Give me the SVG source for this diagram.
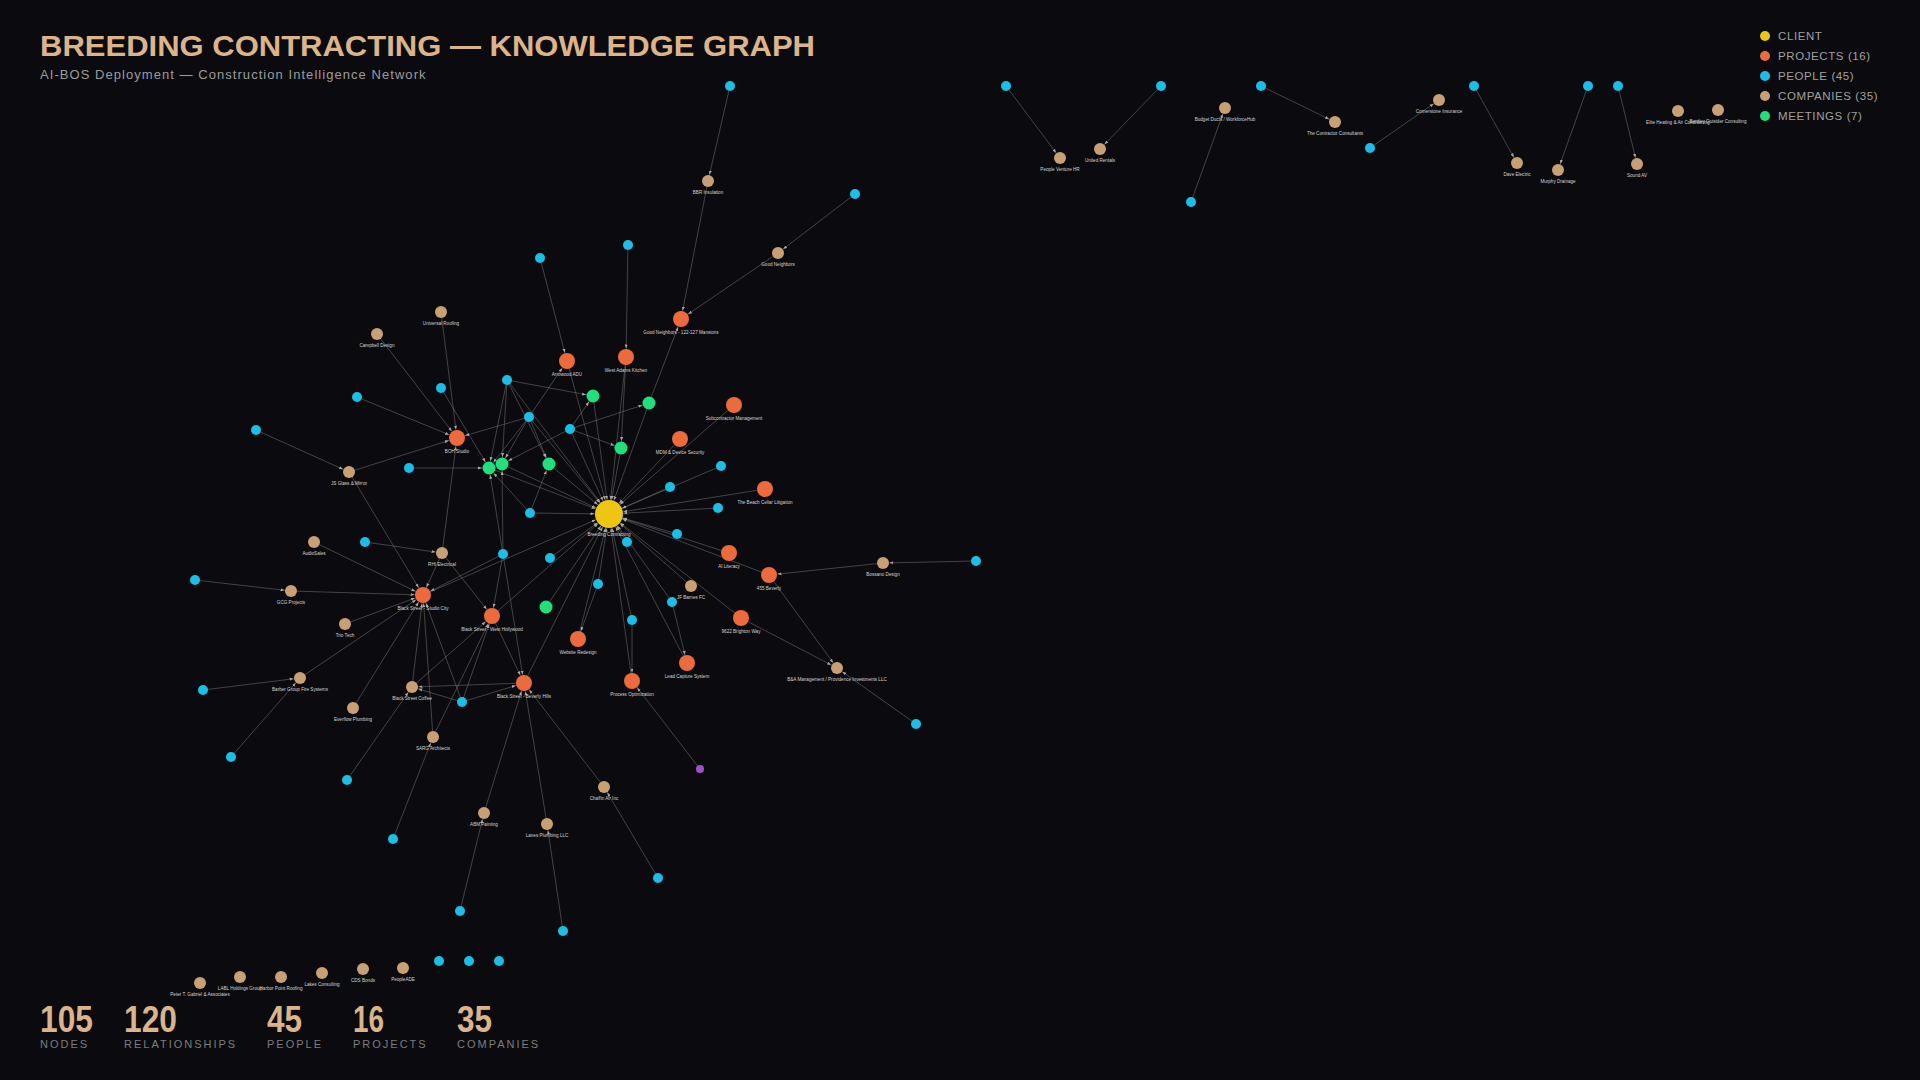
<svg xmlns="http://www.w3.org/2000/svg" width="1920" height="1080" viewBox="0 0 1920 1080">
<style>
.e line{stroke:#8c8c8c;stroke-opacity:.55;stroke-width:.8;fill:none}
.pe{fill:#19bfe6}.co{fill:#c9a074}.pr{fill:#ec6a3b}.mt{fill:#1fe07c}.cl{fill:#eec512}.pu{fill:#a04fd0}
.lb{font-family:"Liberation Sans",Arial,sans-serif;font-size:4.6px;fill:#d4d4d4;text-anchor:middle}
.lg{font-family:"Liberation Sans",Arial,sans-serif;font-size:11.5px;letter-spacing:.6px;fill:#a0a0a0}
.num{font-family:"Liberation Sans",Arial,sans-serif;font-size:36px;font-weight:bold;fill:#dcb48a}
.sl{font-family:"Liberation Sans",Arial,sans-serif;font-size:11px;letter-spacing:2px;fill:#7c7c7c}
</style>
<defs>
<marker id="a14" viewBox="0 0 4 4" markerWidth="4" markerHeight="4" markerUnits="userSpaceOnUse" refX="18.5" refY="2" orient="auto"><path d="M0,0.5L4,2L0,3.5z" fill="#a8a8a8"/></marker>
<marker id="a8" viewBox="0 0 4 4" markerWidth="4" markerHeight="4" markerUnits="userSpaceOnUse" refX="12.5" refY="2" orient="auto"><path d="M0,0.5L4,2L0,3.5z" fill="#a8a8a8"/></marker>
<marker id="a65" viewBox="0 0 4 4" markerWidth="4" markerHeight="4" markerUnits="userSpaceOnUse" refX="11" refY="2" orient="auto"><path d="M0,0.5L4,2L0,3.5z" fill="#a8a8a8"/></marker>
<marker id="a6" viewBox="0 0 4 4" markerWidth="4" markerHeight="4" markerUnits="userSpaceOnUse" refX="10.5" refY="2" orient="auto"><path d="M0,0.5L4,2L0,3.5z" fill="#a8a8a8"/></marker>
</defs>
<rect width="1920" height="1080" fill="#0b0b0f"/>

<g id="title">
<text x="40" y="56" font-family="'Liberation Sans',Arial,sans-serif" font-size="30" font-weight="bold" fill="#dcb48a" textLength="775" lengthAdjust="spacingAndGlyphs">BREEDING CONTRACTING — KNOWLEDGE GRAPH</text>
<text x="40" y="79" font-family="'Liberation Sans',Arial,sans-serif" font-size="13" letter-spacing="1.05" fill="#9c9c9c">AI-BOS Deployment — Construction Intelligence Network</text>
</g>

<g id="legend">
<circle cx="1765" cy="36" r="5" class="cl"/><text x="1778" y="40" class="lg">CLIENT</text>
<circle cx="1765" cy="56" r="5" class="pr"/><text x="1778" y="60" class="lg">PROJECTS (16)</text>
<circle cx="1765" cy="76" r="5" class="pe"/><text x="1778" y="80" class="lg">PEOPLE (45)</text>
<circle cx="1765" cy="96" r="5" class="co"/><text x="1778" y="100" class="lg">COMPANIES (35)</text>
<circle cx="1765" cy="116" r="5" class="mt"/><text x="1778" y="120" class="lg">MEETINGS (7)</text>
</g>

<g id="connectors" class="e">
<line x1="1006" y1="86" x2="1060" y2="158" marker-end="url(#a6)"/>
<line x1="1161" y1="86" x2="1100" y2="149" marker-end="url(#a6)"/>
<line x1="1191" y1="202" x2="1225" y2="108" marker-end="url(#a6)"/>
<line x1="1261" y1="86" x2="1335" y2="122" marker-end="url(#a6)"/>
<line x1="1370" y1="148" x2="1439" y2="100" marker-end="url(#a6)"/>
<line x1="1474" y1="86" x2="1517" y2="163" marker-end="url(#a6)"/>
<line x1="1588" y1="86" x2="1558" y2="170" marker-end="url(#a6)"/>
<line x1="1618" y1="86" x2="1637" y2="164" marker-end="url(#a6)"/>

<line x1="730" y1="86" x2="708" y2="181" marker-end="url(#a6)"/>
<line x1="708" y1="181" x2="681" y2="319" marker-end="url(#a8)"/>
<line x1="855" y1="194" x2="778" y2="253" marker-end="url(#a6)"/>
<line x1="778" y1="253" x2="681" y2="319" marker-end="url(#a8)"/>
<line x1="649" y1="403" x2="681" y2="319" marker-end="url(#a8)"/>
<line x1="649" y1="403" x2="609" y2="514" marker-end="url(#a14)"/>
<line x1="628" y1="245" x2="626" y2="357" marker-end="url(#a8)"/>
<line x1="626" y1="357" x2="609" y2="514" marker-end="url(#a14)"/>
<line x1="626" y1="357" x2="621" y2="448" marker-end="url(#a65)"/>
<line x1="540" y1="258" x2="567" y2="361" marker-end="url(#a8)"/>
<line x1="567" y1="361" x2="609" y2="514" marker-end="url(#a14)"/>
<line x1="529" y1="417" x2="567" y2="361" marker-end="url(#a8)"/>
<line x1="441" y1="312" x2="457" y2="438" marker-end="url(#a8)"/>
<line x1="377" y1="334" x2="457" y2="438" marker-end="url(#a8)"/>
<line x1="357" y1="397" x2="457" y2="438" marker-end="url(#a8)"/>
<line x1="256" y1="430" x2="349" y2="472" marker-end="url(#a6)"/>
<line x1="349" y1="472" x2="457" y2="438" marker-end="url(#a8)"/>
<line x1="349" y1="472" x2="423" y2="595" marker-end="url(#a8)"/>
<line x1="441" y1="388" x2="489" y2="468" marker-end="url(#a65)"/>
<line x1="409" y1="468" x2="489" y2="468" marker-end="url(#a65)"/>
<line x1="507" y1="380" x2="593" y2="396" marker-end="url(#a65)"/>
<line x1="507" y1="380" x2="489" y2="468" marker-end="url(#a65)"/>
<line x1="507" y1="380" x2="502" y2="464" marker-end="url(#a65)"/>
<line x1="507" y1="380" x2="549" y2="464" marker-end="url(#a65)"/>
<line x1="507" y1="380" x2="609" y2="514" marker-end="url(#a14)"/>
<line x1="503" y1="554" x2="502" y2="464" marker-end="url(#a65)"/>
<line x1="503" y1="554" x2="489" y2="468" marker-end="url(#a65)"/>
<line x1="529" y1="417" x2="489" y2="468" marker-end="url(#a65)"/>
<line x1="529" y1="417" x2="502" y2="464" marker-end="url(#a65)"/>
<line x1="529" y1="417" x2="549" y2="464" marker-end="url(#a65)"/>
<line x1="529" y1="417" x2="609" y2="514" marker-end="url(#a14)"/>
<line x1="529" y1="417" x2="457" y2="438" marker-end="url(#a8)"/>
<line x1="570" y1="429" x2="593" y2="396" marker-end="url(#a65)"/>
<line x1="570" y1="429" x2="649" y2="403" marker-end="url(#a65)"/>
<line x1="570" y1="429" x2="621" y2="448" marker-end="url(#a65)"/>
<line x1="570" y1="429" x2="502" y2="464" marker-end="url(#a65)"/>
<line x1="570" y1="429" x2="609" y2="514" marker-end="url(#a14)"/>
<line x1="593" y1="396" x2="609" y2="514" marker-end="url(#a14)"/>
<line x1="621" y1="448" x2="609" y2="514" marker-end="url(#a14)"/>
<line x1="489" y1="468" x2="609" y2="514" marker-end="url(#a14)"/>
<line x1="502" y1="464" x2="609" y2="514" marker-end="url(#a14)"/>
<line x1="549" y1="464" x2="609" y2="514" marker-end="url(#a14)"/>
<line x1="530" y1="513" x2="549" y2="464" marker-end="url(#a65)"/>
<line x1="530" y1="513" x2="609" y2="514" marker-end="url(#a14)"/>
<line x1="530" y1="513" x2="489" y2="468" marker-end="url(#a65)"/>

<line x1="734" y1="405" x2="609" y2="514" marker-end="url(#a14)"/>
<line x1="680" y1="439" x2="609" y2="514" marker-end="url(#a14)"/>
<line x1="721" y1="466" x2="609" y2="514" marker-end="url(#a14)"/>
<line x1="670" y1="487" x2="609" y2="514" marker-end="url(#a14)"/>
<line x1="765" y1="489" x2="609" y2="514" marker-end="url(#a14)"/>
<line x1="718" y1="508" x2="609" y2="514" marker-end="url(#a14)"/>
<line x1="677" y1="534" x2="609" y2="514" marker-end="url(#a14)"/>
<line x1="627" y1="542" x2="609" y2="514" marker-end="url(#a14)"/>
<line x1="729" y1="553" x2="609" y2="514" marker-end="url(#a14)"/>
<line x1="769" y1="575" x2="609" y2="514" marker-end="url(#a14)"/>
<line x1="691" y1="586" x2="609" y2="514" marker-end="url(#a14)"/>
<line x1="672" y1="602" x2="609" y2="514" marker-end="url(#a14)"/>
<line x1="741" y1="618" x2="609" y2="514" marker-end="url(#a14)"/>
<line x1="687" y1="663" x2="609" y2="514" marker-end="url(#a14)"/>
<line x1="632" y1="620" x2="609" y2="514" marker-end="url(#a14)"/>
<line x1="632" y1="681" x2="609" y2="514" marker-end="url(#a14)"/>
<line x1="598" y1="584" x2="609" y2="514" marker-end="url(#a14)"/>
<line x1="578" y1="639" x2="609" y2="514" marker-end="url(#a14)"/>
<line x1="546" y1="607" x2="609" y2="514" marker-end="url(#a14)"/>
<line x1="550" y1="558" x2="609" y2="514" marker-end="url(#a14)"/>
<line x1="741" y1="618" x2="837" y2="668" marker-end="url(#a6)"/>
<line x1="769" y1="575" x2="837" y2="668" marker-end="url(#a6)"/>
<line x1="916" y1="724" x2="837" y2="668" marker-end="url(#a6)"/>
<line x1="976" y1="561" x2="883" y2="563" marker-end="url(#a6)"/>
<line x1="883" y1="563" x2="769" y2="575" marker-end="url(#a8)"/>
<line x1="632" y1="620" x2="632" y2="681" marker-end="url(#a8)"/>
<line x1="672" y1="602" x2="687" y2="663" marker-end="url(#a8)"/>
<line x1="598" y1="584" x2="578" y2="639" marker-end="url(#a8)"/>
<line x1="700" y1="769" x2="632" y2="681" marker-end="url(#a8)"/>

<line x1="314" y1="542" x2="423" y2="595" marker-end="url(#a8)"/>
<line x1="365" y1="542" x2="442" y2="553" marker-end="url(#a6)"/>
<line x1="442" y1="553" x2="423" y2="595" marker-end="url(#a8)"/>
<line x1="442" y1="553" x2="492" y2="616" marker-end="url(#a8)"/>
<line x1="442" y1="553" x2="457" y2="438" marker-end="url(#a8)"/>
<line x1="195" y1="580" x2="291" y2="591" marker-end="url(#a6)"/>
<line x1="291" y1="591" x2="423" y2="595" marker-end="url(#a8)"/>
<line x1="345" y1="624" x2="423" y2="595" marker-end="url(#a8)"/>
<line x1="300" y1="678" x2="423" y2="595" marker-end="url(#a8)"/>
<line x1="203" y1="690" x2="300" y2="678" marker-end="url(#a6)"/>
<line x1="231" y1="757" x2="300" y2="678" marker-end="url(#a6)"/>
<line x1="353" y1="708" x2="423" y2="595" marker-end="url(#a8)"/>
<line x1="347" y1="780" x2="412" y2="687" marker-end="url(#a6)"/>
<line x1="393" y1="839" x2="433" y2="737" marker-end="url(#a6)"/>
<line x1="433" y1="737" x2="423" y2="595" marker-end="url(#a8)"/>
<line x1="433" y1="737" x2="492" y2="616" marker-end="url(#a8)"/>
<line x1="412" y1="687" x2="423" y2="595" marker-end="url(#a8)"/>
<line x1="412" y1="687" x2="492" y2="616" marker-end="url(#a8)"/>
<line x1="524" y1="683" x2="412" y2="687" marker-end="url(#a6)"/>
<line x1="462" y1="702" x2="412" y2="687" marker-end="url(#a6)"/>
<line x1="462" y1="702" x2="492" y2="616" marker-end="url(#a8)"/>
<line x1="462" y1="702" x2="524" y2="683" marker-end="url(#a8)"/>
<line x1="462" y1="702" x2="423" y2="595" marker-end="url(#a8)"/>
<line x1="503" y1="554" x2="423" y2="595" marker-end="url(#a8)"/>
<line x1="503" y1="554" x2="492" y2="616" marker-end="url(#a8)"/>
<line x1="503" y1="554" x2="524" y2="683" marker-end="url(#a8)"/>
<line x1="423" y1="595" x2="609" y2="514" marker-end="url(#a14)"/>
<line x1="492" y1="616" x2="609" y2="514" marker-end="url(#a14)"/>
<line x1="524" y1="683" x2="609" y2="514" marker-end="url(#a14)"/>
<line x1="492" y1="616" x2="524" y2="683" marker-end="url(#a8)"/>
<line x1="484" y1="813" x2="524" y2="683" marker-end="url(#a8)"/>
<line x1="547" y1="824" x2="524" y2="683" marker-end="url(#a8)"/>
<line x1="604" y1="787" x2="524" y2="683" marker-end="url(#a8)"/>
<line x1="460" y1="911" x2="484" y2="813" marker-end="url(#a6)"/>
<line x1="563" y1="931" x2="547" y2="824" marker-end="url(#a6)"/>
<line x1="658" y1="878" x2="604" y2="787" marker-end="url(#a6)"/>
</g>

<g id="n-client"><circle cx="609" cy="514" r="14" class="cl"/><text x="609" y="536" class="lb">Breeding Contracting</text></g>

<g id="n-p1"><circle cx="681" cy="319" r="8" class="pr"/><text x="681" y="334" class="lb">Good Neighbors - 122-127 Mansions</text></g>
<g id="n-p2"><circle cx="567" cy="361" r="8" class="pr"/><text x="567" y="376" class="lb">Arrowood ADU</text></g>
<g id="n-p3"><circle cx="626" cy="357" r="8" class="pr"/><text x="626" y="372" class="lb">West Adams Kitchen</text></g>
<g id="n-p4"><circle cx="734" cy="405" r="8" class="pr"/><text x="734" y="420" class="lb">Subcontractor Management</text></g>
<g id="n-p5"><circle cx="680" cy="439" r="8" class="pr"/><text x="680" y="454" class="lb">MDM &amp; Device Security</text></g>
<g id="n-p6"><circle cx="457" cy="438" r="8" class="pr"/><text x="457" y="453" class="lb">BOH Studio</text></g>
<g id="n-p7"><circle cx="765" cy="489" r="8" class="pr"/><text x="765" y="504" class="lb">The Beach Cellar Litigation</text></g>
<g id="n-p8"><circle cx="729" cy="553" r="8" class="pr"/><text x="729" y="568" class="lb">AI Literacy</text></g>
<g id="n-p9"><circle cx="769" cy="575" r="8" class="pr"/><text x="769" y="590" class="lb">455 Beverly</text></g>
<g id="n-p10"><circle cx="741" cy="618" r="8" class="pr"/><text x="741" y="633" class="lb">9622 Brighton Way</text></g>
<g id="n-p11"><circle cx="687" cy="663" r="8" class="pr"/><text x="687" y="678" class="lb">Lead Capture System</text></g>
<g id="n-p12"><circle cx="578" cy="639" r="8" class="pr"/><text x="578" y="654" class="lb">Website Redesign</text></g>
<g id="n-p13"><circle cx="632" cy="681" r="8" class="pr"/><text x="632" y="696" class="lb">Process Optimization</text></g>
<g id="n-p14"><circle cx="524" cy="683" r="8" class="pr"/><text x="524" y="698" class="lb">Black Street - Beverly Hills</text></g>
<g id="n-p15"><circle cx="423" cy="595" r="8" class="pr"/><text x="423" y="610" class="lb">Black Street - Studio City</text></g>
<g id="n-p16"><circle cx="492" cy="616" r="8" class="pr"/><text x="492" y="631" class="lb">Black Street - West Hollywood</text></g>

<g id="n-m1"><circle cx="593" cy="396" r="6.5" class="mt"/></g>
<g id="n-m2"><circle cx="649" cy="403" r="6.5" class="mt"/></g>
<g id="n-m3"><circle cx="621" cy="448" r="6.5" class="mt"/></g>
<g id="n-m4"><circle cx="489" cy="468" r="6.5" class="mt"/></g>
<g id="n-m5"><circle cx="502" cy="464" r="6.5" class="mt"/></g>
<g id="n-m6"><circle cx="549" cy="464" r="6.5" class="mt"/></g>
<g id="n-m7"><circle cx="546" cy="607" r="6.5" class="mt"/></g>

<g id="n-co1"><circle cx="708" cy="181" r="6" class="co"/><text x="708" y="194" class="lb">BBR Insulation</text></g>
<g id="n-co2"><circle cx="778" cy="253" r="6" class="co"/><text x="778" y="266" class="lb">Good Neighbors</text></g>
<g id="n-co3"><circle cx="441" cy="312" r="6" class="co"/><text x="441" y="325" class="lb">Universal Roofing</text></g>
<g id="n-co4"><circle cx="377" cy="334" r="6" class="co"/><text x="377" y="347" class="lb">Campbell Design</text></g>
<g id="n-co5"><circle cx="349" cy="472" r="6" class="co"/><text x="349" y="485" class="lb">JS Glass &amp; Mirror</text></g>
<g id="n-co6"><circle cx="442" cy="553" r="6" class="co"/><text x="442" y="566" class="lb">RHI Electrical</text></g>
<g id="n-co7"><circle cx="314" cy="542" r="6" class="co"/><text x="314" y="555" class="lb">AudioSales</text></g>
<g id="n-co8"><circle cx="291" cy="591" r="6" class="co"/><text x="291" y="604" class="lb">GCG Projects</text></g>
<g id="n-co9"><circle cx="345" cy="624" r="6" class="co"/><text x="345" y="637" class="lb">Trio Tech</text></g>
<g id="n-co10"><circle cx="300" cy="678" r="6" class="co"/><text x="300" y="691" class="lb">Barber Group Fire Systems</text></g>
<g id="n-co11"><circle cx="353" cy="708" r="6" class="co"/><text x="353" y="721" class="lb">Everflow Plumbing</text></g>
<g id="n-co12"><circle cx="412" cy="687" r="6" class="co"/><text x="412" y="700" class="lb">Black Street Coffee</text></g>
<g id="n-co13"><circle cx="433" cy="737" r="6" class="co"/><text x="433" y="750" class="lb">SARG Architects</text></g>
<g id="n-co14"><circle cx="484" cy="813" r="6" class="co"/><text x="484" y="826" class="lb">ABM Painting</text></g>
<g id="n-co15"><circle cx="547" cy="824" r="6" class="co"/><text x="547" y="837" class="lb">Lanes Plumbing LLC</text></g>
<g id="n-co16"><circle cx="604" cy="787" r="6" class="co"/><text x="604" y="800" class="lb">Chaffin Air Inc</text></g>
<g id="n-co17"><circle cx="691" cy="586" r="6" class="co"/><text x="691" y="599" class="lb">JF Barnes FC</text></g>
<g id="n-co18"><circle cx="883" cy="563" r="6" class="co"/><text x="883" y="576" class="lb">Bossano Design</text></g>
<g id="n-co19"><circle cx="837" cy="668" r="6" class="co"/><text x="837" y="681" class="lb">B&amp;A Management / Providence Investments LLC</text></g>
<g id="n-co20"><circle cx="1060" cy="158" r="6" class="co"/><text x="1060" y="171" class="lb">People Venture HR</text></g>
<g id="n-co21"><circle cx="1100" cy="149" r="6" class="co"/><text x="1100" y="162" class="lb">United Rentals</text></g>
<g id="n-co22"><circle cx="1225" cy="108" r="6" class="co"/><text x="1225" y="121" class="lb">Budget Ducts / WorkforceHub</text></g>
<g id="n-co23"><circle cx="1335" cy="122" r="6" class="co"/><text x="1335" y="135" class="lb">The Contractor Consultants</text></g>
<g id="n-co24"><circle cx="1439" cy="100" r="6" class="co"/><text x="1439" y="113" class="lb">Cornerstone Insurance</text></g>
<g id="n-co25"><circle cx="1517" cy="163" r="6" class="co"/><text x="1517" y="176" class="lb">Dave Electric</text></g>
<g id="n-co26"><circle cx="1558" cy="170" r="6" class="co"/><text x="1558" y="183" class="lb">Murphy Drainage</text></g>
<g id="n-co27"><circle cx="1637" cy="164" r="6" class="co"/><text x="1637" y="177" class="lb">Sound AV</text></g>
<g id="n-co28"><circle cx="1678" cy="111" r="6" class="co"/><text x="1678" y="124" class="lb">Elite Heating &amp; Air Conditioning</text></g>
<g id="n-co29"><circle cx="1718" cy="110" r="6" class="co"/><text x="1718" y="123" class="lb">Bentley Outsider Consulting</text></g>
<g id="n-co30"><circle cx="200" cy="983" r="6" class="co"/><text x="200" y="996" class="lb">Peter T. Gabriel &amp; Associates</text></g>
<g id="n-co31"><circle cx="240" cy="977" r="6" class="co"/><text x="240" y="990" class="lb">LABL Holdings Group</text></g>
<g id="n-co32"><circle cx="281" cy="977" r="6" class="co"/><text x="281" y="990" class="lb">Harbor Point Roofing</text></g>
<g id="n-co33"><circle cx="322" cy="973" r="6" class="co"/><text x="322" y="986" class="lb">Lakes Consulting</text></g>
<g id="n-co34"><circle cx="363" cy="969" r="6" class="co"/><text x="363" y="982" class="lb">CDS Bonds</text></g>
<g id="n-co35"><circle cx="403" cy="968" r="6" class="co"/><text x="403" y="981" class="lb">PeopleADE</text></g>

<g id="n-people" class="pe">
<circle id="n-pe1" cx="730" cy="86" r="5"/>
<circle id="n-pe2" cx="855" cy="194" r="5"/>
<circle id="n-pe3" cx="628" cy="245" r="5"/>
<circle id="n-pe4" cx="540" cy="258" r="5"/>
<circle id="n-pe5" cx="507" cy="380" r="5"/>
<circle id="n-pe6" cx="441" cy="388" r="5"/>
<circle id="n-pe7" cx="357" cy="397" r="5"/>
<circle id="n-pe8" cx="256" cy="430" r="5"/>
<circle id="n-pe9" cx="529" cy="417" r="5"/>
<circle id="n-pe10" cx="570" cy="429" r="5"/>
<circle id="n-pe11" cx="409" cy="468" r="5"/>
<circle id="n-pe12" cx="530" cy="513" r="5"/>
<circle id="n-pe13" cx="721" cy="466" r="5"/>
<circle id="n-pe14" cx="670" cy="487" r="5"/>
<circle id="n-pe15" cx="718" cy="508" r="5"/>
<circle id="n-pe16" cx="677" cy="534" r="5"/>
<circle id="n-pe17" cx="627" cy="542" r="5"/>
<circle id="n-pe18" cx="503" cy="554" r="5"/>
<circle id="n-pe19" cx="550" cy="558" r="5"/>
<circle id="n-pe20" cx="598" cy="584" r="5"/>
<circle id="n-pe21" cx="672" cy="602" r="5"/>
<circle id="n-pe22" cx="632" cy="620" r="5"/>
<circle id="n-pe23" cx="976" cy="561" r="5"/>
<circle id="n-pe24" cx="916" cy="724" r="5"/>
<circle id="n-pe25" cx="365" cy="542" r="5"/>
<circle id="n-pe26" cx="195" cy="580" r="5"/>
<circle id="n-pe27" cx="203" cy="690" r="5"/>
<circle id="n-pe28" cx="231" cy="757" r="5"/>
<circle id="n-pe29" cx="347" cy="780" r="5"/>
<circle id="n-pe30" cx="393" cy="839" r="5"/>
<circle id="n-pe31" cx="462" cy="702" r="5"/>
<circle id="n-pe32" cx="460" cy="911" r="5"/>
<circle id="n-pe33" cx="563" cy="931" r="5"/>
<circle id="n-pe34" cx="658" cy="878" r="5"/>
<circle id="n-pe35" cx="1006" cy="86" r="5"/>
<circle id="n-pe36" cx="1161" cy="86" r="5"/>
<circle id="n-pe37" cx="1191" cy="202" r="5"/>
<circle id="n-pe38" cx="1261" cy="86" r="5"/>
<circle id="n-pe39" cx="1370" cy="148" r="5"/>
<circle id="n-pe40" cx="1474" cy="86" r="5"/>
<circle id="n-pe41" cx="1588" cy="86" r="5"/>
<circle id="n-pe42" cx="1618" cy="86" r="5"/>
<circle id="n-pe43" cx="439" cy="961" r="5"/>
<circle id="n-pe44" cx="469" cy="961" r="5"/>
<circle id="n-pe45" cx="499" cy="961" r="5"/>
</g>
<g id="n-other"><circle cx="700" cy="769" r="4" class="pu"/></g>

<g id="stats">
<text x="40" y="1032" class="num" textLength="53" lengthAdjust="spacingAndGlyphs">105</text>
<text x="40" y="1048" class="sl">NODES</text>
<text x="124" y="1032" class="num" textLength="53" lengthAdjust="spacingAndGlyphs">120</text>
<text x="124" y="1048" class="sl">RELATIONSHIPS</text>
<text x="267" y="1032" class="num" textLength="35" lengthAdjust="spacingAndGlyphs">45</text>
<text x="267" y="1048" class="sl">PEOPLE</text>
<text x="353" y="1032" class="num" textLength="31" lengthAdjust="spacingAndGlyphs">16</text>
<text x="353" y="1048" class="sl">PROJECTS</text>
<text x="457" y="1032" class="num" textLength="35" lengthAdjust="spacingAndGlyphs">35</text>
<text x="457" y="1048" class="sl">COMPANIES</text>
</g>
</svg>
